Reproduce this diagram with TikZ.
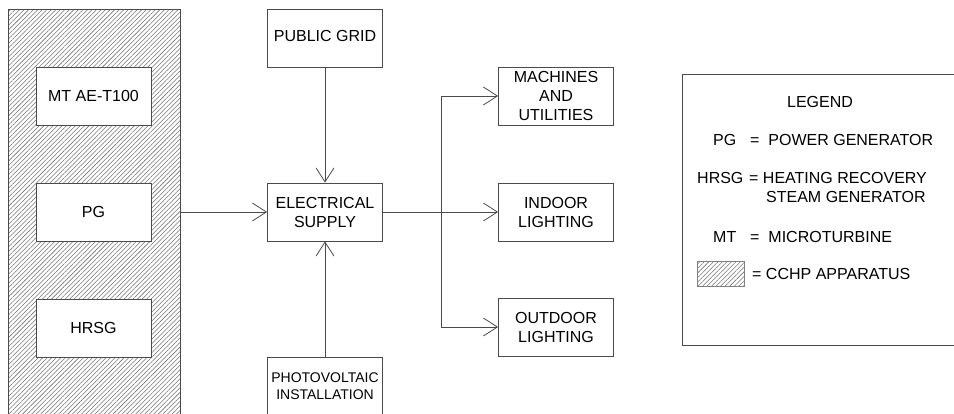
\documentclass[tikz,border=0pt]{standalone}
\usepackage{fontspec}
\setmainfont{Liberation Sans}
\usepackage{tikz}
\usetikzlibrary{positioning,calc,arrows.meta,patterns.meta}

\definecolor{linegray}{HTML}{4A4A4A}

\begin{document}
\begin{tikzpicture}[
        x=1pt, y=-1pt,
        every node/.style={font=\fontsize{16pt}{19pt}\selectfont},
        block/.style={rectangle, draw=linegray, thick, fill=white, minimum width=115pt, minimum height=58pt, inner sep=0pt, align=center},
        panel/.style={rectangle, draw=linegray, thick, inner sep=0pt, pattern={Lines[angle=45, distance=3.2pt, line width=0.55pt]}, pattern color=black!55},
        arrow/.style={-{Straight Barb[length=14pt, width=18pt]}, thick, draw=linegray},
        legendtxt/.style={anchor=base west, inner sep=0pt},
    ]
        \clip (0,0) rectangle (954,414);

        % CCHP apparatus
        \node[panel, minimum width=172pt, minimum height=440pt, anchor=north west] (cchp) at (8,9) {};
        \node[block] (mt) at (93.5,96) {MT AE-T100};
        \node[block] (pg) at (93.5,212) {PG};
        \node[block] (hrsg) at (93.5,328) {HRSG};

        % supply side
        \node[block] (grid) at (325,38) {\raisebox{5pt}{PUBLIC GRID}};
        \node[block] (es) at (325,212) {ELECTRICAL\\SUPPLY};
        \node[block, anchor=north, font=\fontsize{14pt}{16.5pt}\selectfont] (pv) at (325,357) {PHOTOVOLTAIC\\INSTALLATION};

        % loads
        \node[block] (machines) at (556,96) {MACHINES\\AND\\UTILITIES};
        \node[block] (indoor) at (556,212) {INDOOR\\LIGHTING};
        \node[block] (outdoor) at (556,327) {OUTDOOR\\LIGHTING};
        \coordinate (bus) at (441,0);

        \draw[arrow] (pg -| cchp.east) -- (es.west);
        \draw[arrow] (grid.south) -- (es.north);
        \draw[arrow] (pv.north) -- (es.south);
        \draw[arrow] (es.east) -- (indoor.west);
        \draw[arrow] (bus |- es.east) |- (machines.west);
        \draw[arrow] (bus |- es.east) |- (outdoor.west);

        % legend
        \node[rectangle, draw=linegray, thick, minimum width=290pt, minimum height=271pt, anchor=north west] (legend) at (682,74) {};
        \node[anchor=base, inner sep=0pt] (legtitle) at (820,107.5) {LEGEND};
        \node[legendtxt] (keypg) at (713,145.5) {PG};
        \node[legendtxt] (txtpg) at (750,145.5) {=\ \ POWER GENERATOR};
        \node[legendtxt] (keyhrsg) at (697,183.5) {HRSG};
        \node[legendtxt] (txthrsg) at (749,183.5) {= HEATING RECOVERY};
        \node[legendtxt] (txtsteam) at (766,202.5) {STEAM GENERATOR};
        \node[legendtxt] (keymt) at (713,242.5) {MT};
        \node[legendtxt] (txtmt) at (750,242.5) {=\ \ MICROTURBINE};
        \node[panel, draw=black!50, minimum width=47pt, minimum height=25pt, anchor=north west] (swatch) at (697,261) {};
        \node[legendtxt] (txtcchp) at (752,279.5) {= CCHP APPARATUS};

    \end{tikzpicture}
\end{document}
